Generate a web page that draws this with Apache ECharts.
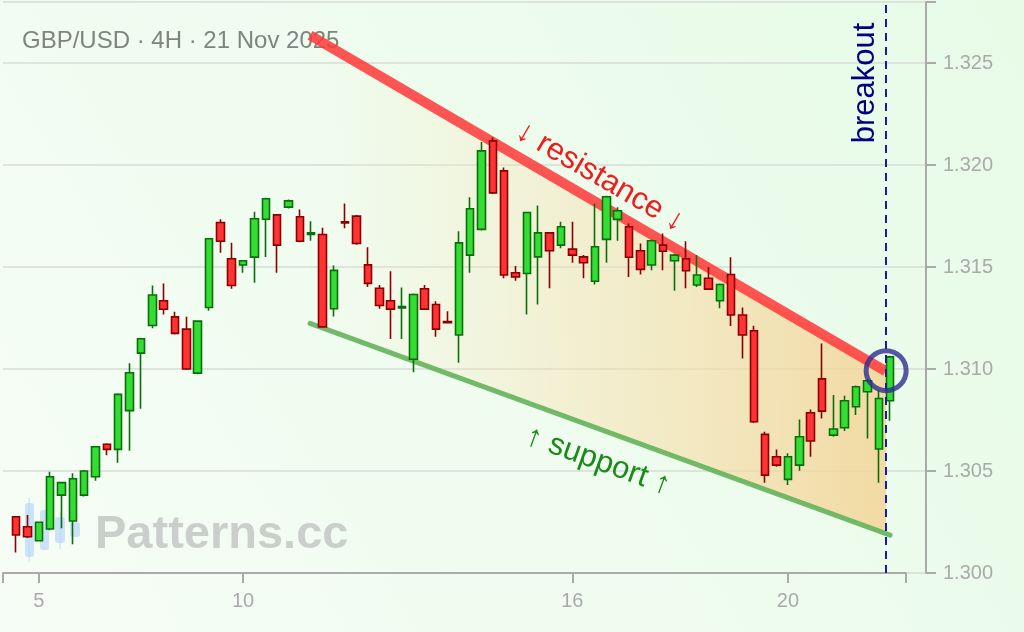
<!DOCTYPE html>
<html><head><meta charset="utf-8">
<script src="https://cdn.jsdelivr.net/npm/echarts@6/dist/echarts.min.js"></script>
<style>html,body{margin:0;padding:0;background:#f0fcf0}#c{width:1024px;height:632px}</style>
</head><body><div id="c"></div>
<script>
// ---- data (GBP/USD 4H candles) ----
const openP  = [1.30276,1.30227,1.30158,1.30216,1.30382,1.30255,1.30382,1.30472,1.30631,1.30606,
                1.30796,1.31078,1.31214,1.31335,1.31256,1.31196,1.30980,1.31302,1.31719,1.31541,
                1.31510,1.31549,1.31735,1.31756,1.31794,1.31747,1.31660,1.31660,1.31296,1.31722,
                1.31750,1.31511,1.31396,1.31335,1.31300,1.31048,1.31394,1.31317,1.31233,1.31167,
                1.31559,1.31685,1.32119,1.31972,1.31472,1.31469,1.31550,1.31668,1.31608,1.31588,
                1.31550,1.31431,1.31636,1.31734,1.31698,1.31580,1.31510,1.31608,1.31531,1.31541,
                1.31412,1.31445,1.31335,1.31464,1.31265,1.31188,1.30680,1.30570,1.30459,1.30529,
                1.30786,1.30952,1.30676,1.30712,1.30815,1.30889,1.30608,1.30845];
const closeP = [1.30186,1.30178,1.30249,1.30472,1.30443,1.30462,1.30500,1.30619,1.30606,1.30876,
                1.30982,1.31149,1.31363,1.31293,1.31175,1.31000,1.31235,1.31639,1.31627,1.31410,
                1.31531,1.31737,1.31835,1.31608,1.31825,1.31627,1.31668,1.31207,1.31484,1.31716,
                1.31616,1.31420,1.31312,1.31294,1.31306,1.31366,1.31294,1.31196,1.31227,1.31619,
                1.31786,1.32070,1.31864,1.31461,1.31452,1.31768,1.31668,1.31580,1.31698,1.31559,
                1.31521,1.31600,1.31845,1.31776,1.31548,1.31489,1.31629,1.31578,1.31559,1.31482,
                1.31461,1.31392,1.31415,1.31265,1.31167,1.30742,1.30480,1.30529,1.30570,1.30668,
                1.30647,1.30794,1.30706,1.30845,1.30913,1.30943,1.30856,1.31060];
const lowP   = [1.30100,1.30172,1.30155,1.30210,1.30219,1.30141,1.30375,1.30452,1.30578,1.30541,
                1.30600,1.30805,1.31200,1.31268,1.31170,1.30995,1.30975,1.31286,1.31570,1.31394,
                1.31472,1.31423,1.31550,1.31472,1.31788,1.31622,1.31629,1.31205,1.31258,1.31690,
                1.31610,1.31403,1.31296,1.31147,1.31147,1.30984,1.31290,1.31158,1.31225,1.31031,
                1.31472,1.31680,1.31858,1.31445,1.31433,1.31268,1.31317,1.31396,1.31592,1.31521,
                1.31445,1.31415,1.31521,1.31629,1.31452,1.31464,1.31485,1.31485,1.31384,1.31396,
                1.31403,1.31388,1.31298,1.31211,1.31052,1.30735,1.30443,1.30521,1.30431,1.30501,
                1.30570,1.30758,1.30668,1.30696,1.30775,1.30660,1.30443,1.30747];
const highP  = [1.30280,1.30284,1.30252,1.30497,1.30448,1.30489,1.30505,1.30622,1.30636,1.30881,
                1.31028,1.31152,1.31410,1.31420,1.31281,1.31256,1.31240,1.31642,1.31735,1.31619,
                1.31535,1.31771,1.31840,1.31760,1.31832,1.31783,1.31725,1.31693,1.31508,1.31812,
                1.31755,1.31597,1.31412,1.31480,1.31400,1.31370,1.31412,1.31333,1.31284,1.31676,
                1.31842,1.32114,1.32136,1.31989,1.31506,1.31772,1.31802,1.31672,1.31722,1.31722,
                1.31559,1.31812,1.31850,1.31793,1.31714,1.31616,1.31635,1.31665,1.31565,1.31627,
                1.31559,1.31499,1.31420,1.31548,1.31302,1.31212,1.30693,1.30606,1.30587,1.30753,
                1.30802,1.31126,1.30873,1.30869,1.30920,1.30950,1.30897,1.31065];
const dayLabels    = ['5', '10', '16', '20'];
const dayTickIndex = [2, 20, 49, 68];
const priceTicks   = [1.300, 1.305, 1.310, 1.315, 1.320, 1.325];
const resistanceLine = [[25.9, 1.32637], [76.6, 1.30990]];
const supportLine    = [[25.9, 1.31224], [77.0, 1.30186]];
const breakoutIndex = 76.65;
const breakoutPrice = 1.30992;
const titleText = 'GBP/USD · 4H · 21 Nov 2025';

// ---- chart ----
const chart = echarts.init(document.getElementById('c'), null, {renderer: 'canvas'});
const xMin = -1.15, xMax = 78.4, yMin = 1.300, yMax = 1.328;
const candles = openP.map((o, i) => [i, o, closeP[i], lowP[i], highP[i]]);
function lineAt(line, x) { const a = line[0], b = line[1]; return a[1] + (x - a[0]) / (b[0] - a[0]) * (b[1] - a[1]); }
const fillPoly = [
  resistanceLine[0],
  [breakoutIndex, lineAt(resistanceLine, breakoutIndex)],
  [breakoutIndex, lineAt(supportLine, breakoutIndex)],
  supportLine[0]
];
const FONT = '"Liberation Sans", Arial, sans-serif';
const axisGray = '#aaaaaa';

const option = {
  animation: false,
  backgroundColor: new echarts.graphic.LinearGradient(0, 1, 1, 0, [
    {offset: 0, color: '#f6fdf6'}, {offset: 1, color: '#e7fbe7'}
  ]),
  textStyle: {fontFamily: FONT},
  grid: [
    {left: 3, right: 98, top: 2, bottom: 59},
    {left: 3, right: 118, top: 2, bottom: 59}
  ],
  xAxis: [
    {gridIndex: 0, type: 'value', min: xMin, max: xMax, show: false,
     axisLine: {show: false, onZero: false}, axisTick: {show: false}, axisLabel: {show: false}, splitLine: {show: false}},
    {gridIndex: 1, type: 'value', min: xMin, max: xMax,
     axisLine: {show: true, onZero: false, lineStyle: {color: axisGray, width: 2}},
     axisTick: {show: true, length: 10, customValues: [xMin].concat(dayTickIndex, [xMax]),
                lineStyle: {color: axisGray, width: 2}},
     axisLabel: {customValues: dayTickIndex,
                 formatter: v => { const k = dayTickIndex.indexOf(Math.round(v)); return k >= 0 ? dayLabels[k] : ''; },
                 color: axisGray, fontSize: 20, margin: 18, fontFamily: FONT},
     splitLine: {show: false}}
  ],
  yAxis: [
    {gridIndex: 0, type: 'value', position: 'right', min: yMin, max: yMax,
     axisLine: {show: true, onZero: false, lineStyle: {color: axisGray, width: 2}},
     axisTick: {show: true, length: 10, customValues: priceTicks.concat([yMax]),
                lineStyle: {color: axisGray, width: 2}},
     axisLabel: {customValues: priceTicks, formatter: v => v.toFixed(3),
                 color: axisGray, fontSize: 20, margin: 17, fontFamily: FONT},
     splitLine: {show: true, lineStyle: {color: '#d6ddd6', width: 1.5}}},
    {gridIndex: 1, type: 'value', min: yMin, max: yMax, show: false,
     axisLine: {show: false, onZero: false}, axisTick: {show: false}, axisLabel: {show: false}, splitLine: {show: false}}
  ],
  graphic: [
    {type: 'text', x: 22, y: 41, z: 0, style: {text: titleText, font: '24px ' + FONT,
      fill: '#7c867c', verticalAlign: 'middle'}},
    {type: 'rect', z: 0, shape: {x: 28.5, y: 498, width: 1.5, height: 64}, style: {fill: 'rgba(185,215,250,0.6)'}},
    {type: 'rect', z: 0, shape: {x: 25, y: 503, width: 9, height: 54, r: 3}, style: {fill: 'rgba(185,215,250,0.7)'}},
    {type: 'rect', z: 0, shape: {x: 40, y: 510, width: 9, height: 40, r: 3}, style: {fill: 'rgba(185,215,250,0.7)'}},
    {type: 'rect', z: 0, shape: {x: 59.5, y: 512, width: 1.5, height: 37}, style: {fill: 'rgba(185,215,250,0.6)'}},
    {type: 'rect', z: 0, shape: {x: 55, y: 517, width: 10, height: 26, r: 3}, style: {fill: 'rgba(185,215,250,0.7)'}},
    {type: 'rect', z: 0, shape: {x: 70, y: 522, width: 10, height: 15, r: 3}, style: {fill: 'rgba(185,215,250,0.7)'}},
    {type: 'text', x: 95, y: 535, z: 0, style: {text: 'Patterns.cc', font: 'bold 47px ' + FONT,
      fill: '#cbcfcb', verticalAlign: 'middle'}},
    {type: 'text', x: 600, y: 177, rotation: -30.3 * Math.PI / 180, z: 10,
     style: {text: '↓ resistance ↓', font: '31px ' + FONT, fill: '#ee1c1c', align: 'center', verticalAlign: 'middle'}},
    {type: 'text', x: 598, y: 461, rotation: -19.8 * Math.PI / 180, z: 10,
     style: {text: '↑ support ↑', font: '31px ' + FONT, fill: '#1a8a1a', align: 'center', verticalAlign: 'middle'}},
    {type: 'text', x: 865, y: 83, rotation: Math.PI / 2, z: 10,
     style: {text: 'breakout', font: '31px ' + FONT, fill: '#000080', align: 'center', verticalAlign: 'middle'}}
  ],
  series: [
    {type: 'custom', xAxisIndex: 1, yAxisIndex: 1, z: 1, silent: true, clip: false,
     data: [[0, yMin]],
     renderItem: (params, api) => ({
       type: 'polygon',
       shape: {points: fillPoly.map(p => api.coord(p))},
       style: {fill: new echarts.graphic.LinearGradient(0, 0, 1, 0, [
         {offset: 0, color: 'rgba(250,232,190,0.0)'},
         {offset: 0.45, color: 'rgba(248,222,170,0.42)'},
         {offset: 1, color: 'rgba(243,212,150,0.85)'}
       ])}
     })},
    {type: 'line', xAxisIndex: 1, yAxisIndex: 1, z: 2, silent: true, symbol: 'none',
     data: resistanceLine, lineStyle: {color: 'rgba(255,55,55,0.85)', width: 10, cap: 'butt'}},
    {type: 'line', xAxisIndex: 1, yAxisIndex: 1, z: 2, silent: true, symbol: 'none',
     data: supportLine, lineStyle: {color: 'rgba(100,178,90,0.9)', width: 5, cap: 'round'}},
    {type: 'candlestick', xAxisIndex: 1, yAxisIndex: 1, z: 3,
     encode: {x: 0, y: [1, 2, 3, 4]},
     data: candles, barWidth: 8,
     itemStyle: {color: '#33dd33', color0: '#ff3333', borderColor: '#0b6e0b', borderColor0: '#8b0000', borderWidth: 1.6}},
    {type: 'scatter', xAxisIndex: 1, yAxisIndex: 1, z: 5, silent: true,
     data: [[breakoutIndex, breakoutPrice]], symbol: 'circle', symbolSize: 40,
     itemStyle: {color: 'rgba(0,0,0,0)', borderColor: '#2d2d92', borderWidth: 5},
     markLine: {silent: true, symbol: 'none', label: {show: false}, animation: false,
       lineStyle: {color: '#1a1aa0', width: 2, type: [8, 6]},
       data: [{xAxis: breakoutIndex}]}}
  ]
};
chart.setOption(option);
</script>
</body></html>
